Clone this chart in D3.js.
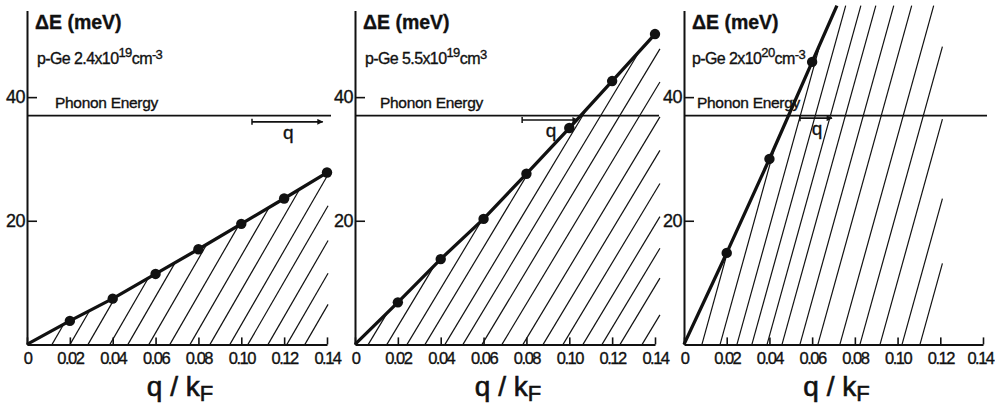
<!DOCTYPE html>
<html>
<head>
<meta charset="utf-8">
<script src="https://cdn.jsdelivr.net/npm/d3@7"></script>
<style>
  html, body { margin: 0; padding: 0; background: #fff; }
  svg { display: block; }
  text { font-family: "Liberation Sans", Arial, sans-serif; fill: #111; stroke: #111; stroke-width: 0.35px; }
</style>
</head>
<body>
<svg id="chart" width="995" height="408"></svg>
<script>
// Tick values and labels shared by the three panels
const qTicks = [0, 0.02, 0.04, 0.06, 0.08, 0.10, 0.12, 0.14];
const qTickLabels = ["0", "0.02", "0.04", "0.06", "0.08", "0.10", "0.12", "0.14"];
const eTicks = [20, 40];

// Measured excitation energies ΔE (meV) versus q/kF
const qPoints1 = [0.02, 0.04, 0.06, 0.08, 0.10, 0.12, 0.14];
const dE1 = [3.8, 7.4, 11.4, 15.4, 19.5, 23.6, 27.8];
const qPoints2 = [0.02, 0.04, 0.06, 0.08, 0.10, 0.12, 0.14];
const dE2 = [6.8, 13.8, 20.3, 27.6, 35.0, 42.6, 50.2];
const qPoints3 = [0.02, 0.04, 0.06];
const dE3 = [14.8, 30.0, 45.7];

// Sample descriptions
const sampleBase = ["p-Ge 2.4x10", "p-Ge 5.5x10", "p-Ge 2x10"];
const sampleExp = ["19", "19", "20"];
const unitExp = ["-3", "3", "-3"];

// Optical phonon energy of Ge (meV)
const phononEnergy = 37;

// Single-particle continuum: onset q/kF of each boundary line, its slope (meV per unit q/kF)
// and the largest q/kF reached by the shaded region
const hatchStart1 = [0.0117, 0.0201, 0.0285, 0.0387, 0.0471, 0.0569, 0.0667, 0.0761, 0.0854, 0.0947, 0.1031, 0.1125, 0.1213, 0.1297];
const hatchStart2 = [0.0062, 0.0149, 0.0243, 0.0327, 0.0420, 0.0504, 0.0593, 0.0686, 0.0784, 0.0878, 0.0971, 0.1064, 0.1153, 0.1237, 0.1340];
const hatchStart3 = [0.0084, 0.0169, 0.0248, 0.0318, 0.0389, 0.0459, 0.0543, 0.0627, 0.0730, 0.0824, 0.0918, 0.1021, 0.1105];
const hatchSlope = [600, 576, 1248];
const continuumEdge = [0.1405, 0.1423, 0.121];

const eTop = 54.8;   // upper end of the energy range drawn
const eAxisTop = 54;

const panels = [
  { pts: qPoints1.map((q, i) => [q, dE1[i]]), hatch: hatchStart1, extend: false,
    xr: [27, 327], text: [8, 10, 28], arrow: [0.105, 0.138, 36.0] },
  { pts: qPoints2.map((q, i) => [q, dE2[i]]), hatch: hatchStart2, extend: false,
    xr: [355, 655], text: [8, 10, 25], arrow: [0.078, 0.104, 36.3] },
  { pts: qPoints3.map((q, i) => [q, dE3[i]]), hatch: hatchStart3, extend: true,
    xr: [684, 983], text: [8, 8, 13], arrow: [0.0543, 0.0693, 36.6] }
];

const svg = d3.select("#chart");

const y = d3.scaleLinear().domain([0, 55]).range([344.4, 4.4]);

// Arrowhead for the q arrows
svg.append("defs").append("marker")
  .attr("id", "arrowhead")
  .attr("viewBox", "0 0 10 10")
  .attr("refX", 9).attr("refY", 5)
  .attr("markerWidth", 10).attr("markerHeight", 6)
  .attr("markerUnits", "userSpaceOnUse")
  .attr("orient", "auto")
  .append("path").attr("d", "M0,0 L10,5 L0,10 Z").attr("fill", "#111");

panels.forEach((p, pi) => {
  const x = d3.scaleLinear().domain([0, 0.14]).range(p.xr);
  const g = svg.append("g");

  // Dispersion polyline (from the origin through the measured points)
  const curve = [[0, 0]].concat(p.pts);
  if (p.extend) {
    const a = curve[curve.length - 2], b = curve[curve.length - 1];
    const m = (b[1] - a[1]) / (b[0] - a[0]);
    curve.push([b[0] + (eTop - b[1]) / m, eTop]);
  }

  // Hatch lines of the single-particle continuum
  const s = hatchSlope[pi];
  const edge = continuumEdge[pi];
  const hatchLines = p.hatch.map(q0 => {
    let qEnd = Math.min(edge, q0 + eTop / s);
    for (let i = 0; i < curve.length - 1; i++) {
      const [qa, Ea] = curve[i], [qb, Eb] = curve[i + 1];
      const m = (Eb - Ea) / (qb - qa);
      if (s === m) continue;
      const q = (Ea - m * qa + s * q0) / (s - m);
      if (q >= qa - 1e-9 && q <= qb + 1e-9) { qEnd = Math.min(qEnd, q); break; }
    }
    return [[q0, 0], [qEnd, s * (qEnd - q0)]];
  });

  g.append("g").selectAll("line").data(hatchLines).join("line")
    .attr("x1", d => x(d[0][0])).attr("y1", d => y(d[0][1]))
    .attr("x2", d => x(d[1][0])).attr("y2", d => y(d[1][1]))
    .attr("stroke", "#111").attr("stroke-width", 1.2);

  // Phonon energy line
  g.append("line")
    .attr("x1", x(0)).attr("x2", x(0.14) + 4)
    .attr("y1", y(phononEnergy)).attr("y2", y(phononEnergy))
    .attr("stroke", "#111").attr("stroke-width", 1.6);

  // Dispersion line and points
  g.append("path")
    .datum(curve)
    .attr("d", d3.line().x(d => x(d[0])).y(d => y(d[1])))
    .attr("fill", "none").attr("stroke", "#111").attr("stroke-width", 3.3)
    .attr("stroke-linejoin", "round");
  g.append("g").selectAll("circle").data(p.pts).join("circle")
    .attr("cx", d => x(d[0])).attr("cy", d => y(d[1])).attr("r", 5.2)
    .attr("fill", "#111");

  // x axis (ticks pointing inward)
  const xAxis = d3.axisBottom(x).tickValues(qTicks)
    .tickFormat((d, i) => qTickLabels[i])
    .tickSizeInner(-7).tickSizeOuter(0).tickPadding(8);
  const gx = g.append("g").attr("transform", `translate(0,${y(0)})`).call(xAxis);
  gx.select(".domain").attr("stroke", "#111").attr("stroke-width", 2);
  gx.selectAll(".tick line").attr("stroke", "#111").attr("stroke-width", 1.6);
  gx.selectAll(".tick text").attr("font-size", 16.5).attr("letter-spacing", -1.5)
    .attr("font-family", "Liberation Sans, Arial, sans-serif").attr("fill", "#111")
    .attr("dx", (d, i) => (pi === 2 && i === qTicks.length - 1) ? -3 : 0);

  // y axis (ticks pointing inward)
  const yAxisScale = y.copy().domain([0, eAxisTop]).range([y(0), y(eAxisTop)]);
  const yAxis = d3.axisLeft(yAxisScale).tickValues(eTicks)
    .tickSizeInner(-10).tickSizeOuter(0).tickPadding(2);
  const gy = g.append("g").attr("transform", `translate(${x(0)},0)`).call(yAxis);
  gy.select(".domain").attr("stroke", "#111").attr("stroke-width", 2);
  gy.selectAll(".tick line").attr("stroke", "#111").attr("stroke-width", 1.6);
  gy.selectAll(".tick text").attr("font-size", 18).attr("letter-spacing", -0.5)
    .attr("font-family", "Liberation Sans, Arial, sans-serif").attr("fill", "#111");

  // Labels inside the panel
  g.append("text").attr("x", x(0) + p.text[0]).attr("y", 29)
    .attr("font-size", 19.5).attr("font-weight", "bold").text("ΔE (meV)");

  const t = g.append("text").attr("x", x(0) + p.text[1]).attr("y", 64)
    .attr("font-size", 16).attr("letter-spacing", -0.6);
  t.append("tspan").text(sampleBase[pi]);
  t.append("tspan").attr("dy", -7).attr("font-size", 13).text(sampleExp[pi]);
  t.append("tspan").attr("dy", 7).text("cm");
  t.append("tspan").attr("dy", -5).attr("font-size", 13).text(unitExp[pi]);

  g.append("text").attr("x", x(0) + p.text[2]).attr("y", 108)
    .attr("font-size", 15.5).attr("letter-spacing", -0.3).text("Phonon Energy");

  // q arrow
  const [qa0, qa1, ea] = p.arrow;
  g.append("line")
    .attr("x1", x(qa0)).attr("x2", x(qa1)).attr("y1", y(ea)).attr("y2", y(ea))
    .attr("stroke", "#111").attr("stroke-width", 1.6).attr("marker-end", "url(#arrowhead)");
  g.append("line")
    .attr("x1", x(qa0)).attr("x2", x(qa0)).attr("y1", y(ea) - 3).attr("y2", y(ea) + 3)
    .attr("stroke", "#111").attr("stroke-width", 1.5);
  g.append("text").attr("x", (x(qa0) + x(qa1)) / 2 + 1).attr("y", y(ea) + 17)
    .attr("font-size", 19).attr("text-anchor", "middle").text("q");

  // x axis title
  const xt = g.append("text").attr("x", (p.xr[0] + p.xr[1]) / 2 + 3).attr("y", 396)
    .attr("font-size", 28).attr("text-anchor", "middle").style("stroke-width", "0.6px");
  xt.append("tspan").text("q / k");
  xt.append("tspan").attr("dy", 5).attr("font-size", 22).text("F");
});
</script>
</body>
</html>
